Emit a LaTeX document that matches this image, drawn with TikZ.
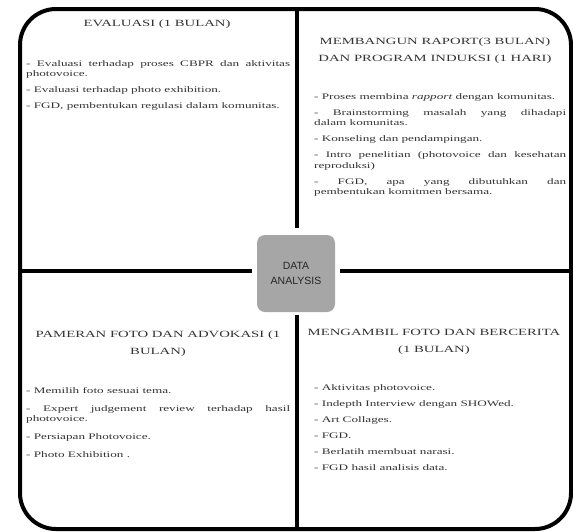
\documentclass[tikz,border=0pt]{standalone}
\usepackage{fontspec}
\setmainfont{Liberation Serif}
\newfontfamily\quadfont[FakeStretch=1.55]{Liberation Serif}
\newfontfamily\boxfont{Liberation Sans}

\tikzset{
  frameline/.style={line width=4pt},
  splitline/.style={line width=3.5pt},
  quadtitle/.style={align=center, inner sep=0pt, text=black!80,
    font=\quadfont\fontsize{9.5}{17}\selectfont},
  quadbody/.style={anchor=north west, inner sep=0pt, align=justify, text=black!80,
    font=\quadfont\fontsize{8.5}{10.5}\selectfont},
  databox/.style={fill=black!35, rounded corners=8pt, minimum width=78pt,
    minimum height=77pt, align=center, text=black!85,
    font=\boxfont\fontsize{10.5}{15}\selectfont},
}

\begin{document}
\begin{tikzpicture}[x=1pt, y=-1pt]
\useasboundingbox (0,0) rectangle (573,531);
\draw[frameline, rounded corners=36pt] (20,9) rectangle (571,529);
\node[databox] (data) at (296,273.5) {DATA\\ANALYSIS};
\coordinate (topmid) at (297,9);
\coordinate (botmid) at (297,529);
\coordinate (leftmid) at (20,271);
\coordinate (rightmid) at (571,271);
\draw[splitline, shorten >=7pt] (topmid) -- (topmid |- data.north);
\draw[splitline, shorten >=3pt] (botmid) -- (botmid |- data.south);
\draw[splitline, shorten >=5pt] (leftmid) -- (leftmid -| data.west);
\draw[splitline, shorten >=5pt] (rightmid) -- (rightmid -| data.east);
\node[quadtitle] (evalTitle) at (157,24) {EVALUASI (1 BULAN)};
\node[quadbody, text width=264pt] (evalList) at (26,60) {\parindent=0pt\parskip=5.5pt
- Evaluasi terhadap proses CBPR dan aktivitas\linebreak photovoice.\par
- Evaluasi terhadap photo exhibition.\par
- FGD, pembentukan regulasi dalam komunitas.};
\node[quadtitle] (raportTitle) at (435,51) {MEMBANGUN RAPORT(3 BULAN)\\DAN PROGRAM INDUKSI (1 HARI)};
\node[quadbody, text width=252pt] (raportList) at (314,93) {\parindent=0pt\parskip=5.5pt
- Proses membina \textit{rapport} dengan komunitas.\par
- Brainstorming masalah yang dihadapi\linebreak dalam komunitas.\par
- Konseling dan pendampingan.\par
- Intro penelitian (photovoice dan kesehatan\linebreak reproduksi)\par
- FGD, apa yang dibutuhkan dan\linebreak pembentukan komitmen bersama.};
\node[quadtitle] (pameranTitle) at (158,344) {PAMERAN FOTO DAN ADVOKASI (1\\BULAN)};
\node[quadbody, text width=264pt] (pameranList) at (26,387) {\parindent=0pt\parskip=7.5pt
- Memilih foto sesuai tema.\par
- Expert judgement review terhadap hasil\linebreak photovoice.\par
- Persiapan Photovoice.\par
- Photo Exhibition .};
\node[quadtitle] (fotoTitle) at (434,342) {MENGAMBIL FOTO DAN BERCERITA\\(1 BULAN)};
\node[quadbody, text width=252pt] (fotoList) at (314,384) {\parindent=0pt\parskip=5.5pt
- Aktivitas photovoice.\par
- Indepth Interview dengan SHOWed.\par
- Art Collages.\par
- FGD.\par
- Berlatih membuat narasi.\par
- FGD hasil analisis data.};
\end{tikzpicture}
\end{document}
